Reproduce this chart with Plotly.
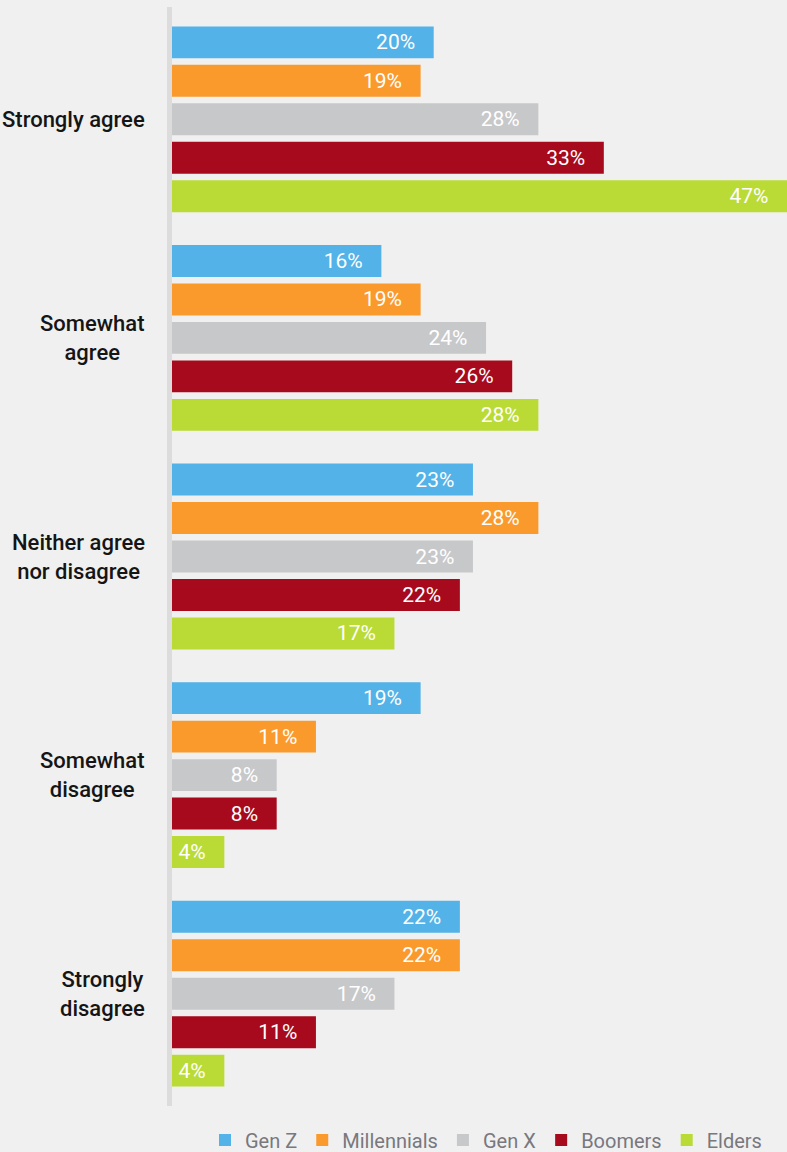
import plotly.graph_objects as go

# Survey responses by generation (percent)
categories = [
    "Strongly agree",
    "Somewhat agree",
    "Neither agree nor disagree",
    "Somewhat disagree",
    "Strongly disagree",
]
category_labels = [
    "Strongly agree",
    "Somewhat<br>agree",
    "Neither agree<br>nor disagree",
    "Somewhat<br>disagree",
    "Strongly<br>disagree",
]
generations = ["Gen Z", "Millennials", "Gen X", "Boomers", "Elders"]
gen_z = [20, 16, 23, 19, 22]
millennials = [19, 19, 28, 11, 22]
gen_x = [28, 24, 23, 8, 17]
boomers = [33, 26, 22, 8, 11]
elders = [47, 28, 17, 4, 4]

series = [gen_z, millennials, gen_x, boomers, elders]
colors = ["#53b2e7", "#fa9a2c", "#c7c8ca", "#a60a1c", "#badb36"]

FONT = "Roboto, 'DejaVu Sans Condensed', sans-serif"
BG = "#f0f0f0"
PAD = "\u00a0\u00a0\u00a0"

fig = go.Figure()
for name, vals, col in zip(generations, series, colors):
    fig.add_trace(go.Bar(
        name=name,
        y=categories,
        x=vals,
        orientation="h",
        marker=dict(color=col, line=dict(width=0)),
        texttemplate="%{x}%" + PAD,
        textposition="inside",
        insidetextanchor="end",
        textangle=0,
        insidetextfont=dict(color="white", size=21, family=FONT),
        hoverinfo="skip",
    ))

# Category labels, right-aligned block with centred lines
for cat, lab in zip(categories, category_labels):
    fig.add_annotation(
        x=-25 / 615, xref="paper", y=cat, yref="y",
        text=lab, showarrow=False,
        xanchor="right", yanchor="middle", align="center",
        font=dict(size=22, color="#151515", family=FONT, weight=500),
    )

# Vertical baseline
fig.add_shape(
    type="line", xref="paper", yref="paper",
    x0=-2.5 / 615, x1=-2.5 / 615, y0=-3 / 1093, y1=1 + 3 / 1093,
    line=dict(color="#dcdcdc", width=5),
)

fig.update_layout(
    width=787, height=1152,
    margin=dict(l=172, r=0, t=10, b=49),
    paper_bgcolor=BG, plot_bgcolor=BG,
    barmode="group",
    bargap=0.12,
    bargroupgap=0.17,
    xaxis=dict(range=[0, 47], visible=False, fixedrange=True),
    yaxis=dict(
        autorange="reversed", showticklabels=False, showgrid=False,
        zeroline=False, showline=False, ticks="",
    ),
    showlegend=True,
    legend=dict(
        orientation="h",
        xref="container", yref="container",
        x=205 / 787, xanchor="left",
        y=12 / 1152, yanchor="middle",
        font=dict(size=20, color="#78787e", family=FONT),
        itemwidth=30,
        traceorder="normal",
        bgcolor="rgba(0,0,0,0)",
    ),
    font=dict(family=FONT),
)

fig.write_html("out.html")
